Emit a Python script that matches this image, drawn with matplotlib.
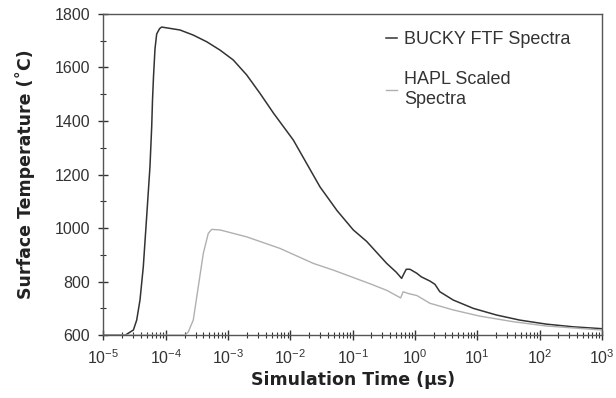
import matplotlib.pyplot as plt
import numpy as np
from matplotlib.ticker import LogLocator, MultipleLocator, FixedLocator

plt.rcParams['font.family'] = ['Liberation Sans', 'DejaVu Sans']
plt.rcParams['mathtext.default'] = 'regular'

# log10 of time (us) and surface temperature (C)
bucky_logt = [-5.0, -4.65, -4.52, -4.467, -4.414, -4.361, -4.307, -4.254, -4.226,
              -4.213, -4.197, -4.173, -4.146, -4.10, -4.066, -3.986, -3.772,
              -3.559, -3.343, -3.13, -2.917, -2.701, -2.49, -2.27, -1.953,
              -1.525, -1.25, -0.99, -0.775, -0.454, -0.30, -0.214, -0.18,
              -0.14, -0.08, 0.03, 0.10, 0.24, 0.32, 0.40, 0.615, 0.936,
              1.31, 1.685, 2.11, 2.54, 3.0]
bucky_temp = [600, 600, 619, 656, 731, 855, 1042, 1229, 1379,
              1479, 1566, 1670, 1725, 1745, 1751, 1748, 1740,
              1721, 1696, 1665, 1628, 1572, 1504, 1429, 1329,
              1154, 1065, 993, 950, 868, 835, 812, 828,
              846, 846, 831, 818, 802, 790, 762, 731, 700,
              675, 656, 641, 631, 624]

hapl_logt = [-5.0, -3.69, -3.639, -3.559, -3.478, -3.398, -3.318, -3.263, -3.13,
             -2.70, -2.167, -1.632, -1.30, -1.0, -0.70, -0.45, -0.23, -0.19,
             -0.10, 0.03, 0.24, 0.615, 1.04, 1.58, 2.11, 2.65, 3.0]
hapl_temp = [600, 600, 612, 656, 781, 905, 980, 995, 993,
             967, 924, 868, 842, 816, 790, 767, 739, 762,
             755, 748, 719, 694, 671, 650, 634, 625, 619]

fig = plt.figure(figsize=(6.16, 3.98), dpi=100)
ax = fig.add_axes([0.168, 0.158, 0.809, 0.807])

ax.plot(10 ** np.array(bucky_logt), bucky_temp, color='#333333', lw=1.1,
        label='BUCKY FTF Spectra')
ax.plot(10 ** np.array(hapl_logt), hapl_temp, color='#b0b0b0', lw=1.0,
        label='HAPL Scaled\nSpectra')

ax.set_xscale('log')
ax.set_xlim(1e-5, 1e3)
ax.set_ylim(600, 1800)
ax.xaxis.set_major_locator(FixedLocator([10.0 ** k for k in range(-5, 4)]))
ax.xaxis.set_minor_locator(LogLocator(base=10, subs=np.arange(2, 10), numticks=20))
ax.set_xticklabels(['$10^{%d}$' % k for k in range(-5, 4)])
ax.yaxis.set_major_locator(MultipleLocator(200))
ax.yaxis.set_minor_locator(MultipleLocator(100))

ax.tick_params(which='major', direction='inout', length=7, width=1.0,
               labelsize=11.5, colors='#333333', pad=6)
ax.tick_params(which='minor', direction='inout', length=4, width=0.8,
               colors='#333333')
for sp in ax.spines.values():
    sp.set_color('#555555')
    sp.set_linewidth(1.0)

lab_font = dict(family=['DejaVu Sans'], fontsize=12.5, fontweight='bold',
                color='#222222')
ax.set_xlabel('Simulation Time (\u03bcs)', labelpad=3, **lab_font)
ax.set_ylabel('Surface Temperature (\u02daC)', labelpad=14, **lab_font)

ax.legend(loc='upper left', bbox_to_anchor=(0.535, 0.998), frameon=False,
          handlelength=0.6, handletextpad=0.4, labelspacing=1.3,
          fontsize=13, labelcolor='#333333')

fig.savefig('out.png', dpi=100)
